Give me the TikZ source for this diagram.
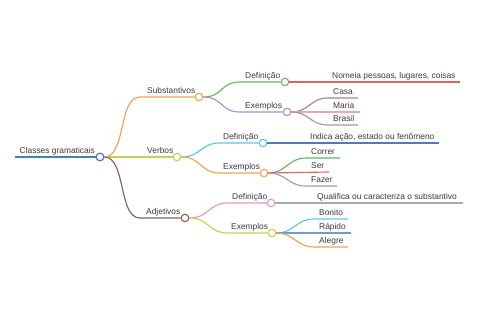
\documentclass[tikz,border=0pt]{standalone}
\usepackage{fontspec}
\setmainfont{Liberation Sans}
\definecolor{cRoot}{HTML}{4A7FB5}
\definecolor{cOrange}{HTML}{F2A154}
\definecolor{cLime}{HTML}{C5D04E}
\definecolor{cBrown}{HTML}{8B5E55}
\definecolor{cGreen}{HTML}{62B762}
\definecolor{cRed}{HTML}{E06464}
\definecolor{cPurple}{HTML}{A392CF}
\definecolor{cMauve}{HTML}{A6838E}
\definecolor{cPink}{HTML}{E8A4C4}
\definecolor{cGrayBrown}{HTML}{AA9696}
\definecolor{cCyan}{HTML}{5EC8DA}
\definecolor{cBlue}{HTML}{6A9FD0}
\definecolor{cMagenta}{HTML}{E694CC}
\definecolor{cGray}{HTML}{AAAAAA}
\definecolor{cTxt}{HTML}{3A3A3A}
\begin{document}
\begin{tikzpicture}[x=1pt,y=-1pt,
  lbl/.style={anchor=base west,inner sep=0pt,font=\fontsize{8.4}{10}\selectfont,text=cTxt},
  dot/.style={circle,draw=#1,fill=white,line width=1.1pt,minimum size=7.5pt,inner sep=0pt},
  conn/.style={draw=#1,line width=1.15pt}]
\useasboundingbox (0,0) rectangle (480,320);
% root
\coordinate (r0) at (15,157);
\draw[conn=cRoot,line width=1.8pt] (r0) -- (96,157);
\node[dot=cRoot] (R) at (100,157) {};
\node[lbl] (Rt) at (19.5,154) {Classes gramaticais};
% level 1
\coordinate (sS) at (140,97);  \node[dot=cOrange] (S) at (199,97) {};
\node[lbl] (St) at (147,94) {Substantivos};
\coordinate (vS) at (140,157); \node[dot=cLime] (V) at (177,157) {};
\node[lbl] (Vt) at (147,154) {Verbos};
\coordinate (aS) at (140,218); \node[dot=cBrown] (A) at (185,218) {};
\node[lbl] (At) at (146,215) {Adjetivos};
\draw[conn=cOrange] (R.east) .. controls +(22,0) and +(-22,0) .. (sS) -- (S.west);
\draw[conn=cLime] (R.east) -- (V.west);
\draw[conn=cBrown] (R.east) .. controls +(22,0) and +(-22,0) .. (aS) -- (A.west);
\node[dot=cRoot] at (R) {};
% Substantivos children
\coordinate (sdS) at (240,82); \node[dot=cGreen] (SD) at (285,82) {};
\node[lbl] (SDt) at (245,79) {Definição};
\coordinate (seS) at (240,112); \node[dot=cPurple] (SE) at (287,112) {};
\node[lbl] (SEt) at (245,109) {Exemplos};
\draw[conn=cGreen] (S.east) .. controls +(20,0) and +(-20,0) .. (sdS) -- (SD.west);
\draw[conn=cPurple] (S.east) .. controls +(20,0) and +(-20,0) .. (seS) -- (SE.west);
\coordinate (sdL) at (460,82);
\node[lbl] (SDLt) at (332,79) {Nomeia pessoas, lugares, coisas};
\draw[conn=cRed] (SD.east) -- (sdL);
\coordinate (c1s) at (328,98) ; \coordinate (c1e) at (358,98);
\coordinate (c2s) at (328,112); \coordinate (c2e) at (360,112);
\coordinate (c3s) at (328,125); \coordinate (c3e) at (358,125);
\node[lbl] (C1) at (333,95) {Casa};
\node[lbl] (C2) at (333,109) {Maria};
\node[lbl] (C3) at (333,122) {Brasil};
\draw[conn=cMauve] (SE.east) .. controls +(18,0) and +(-18,0) .. (c1s) -- (c1e);
\draw[conn=cPink] (SE.east) -- (c2e);
\draw[conn=cGrayBrown] (SE.east) .. controls +(18,0) and +(-18,0) .. (c3s) -- (c3e);
% Verbos children
\coordinate (vdS) at (220,143); \node[dot=cCyan] (VD) at (263,143) {};
\node[lbl] (VDt) at (223,140) {Definição};
\coordinate (veS) at (220,173); \node[dot=cOrange] (VE) at (264,173) {};
\node[lbl] (VEt) at (223,170) {Exemplos};
\draw[conn=cCyan] (V.east) .. controls +(20,0) and +(-20,0) .. (vdS) -- (VD.west);
\draw[conn=cOrange] (V.east) .. controls +(20,0) and +(-20,0) .. (veS) -- (VE.west);
\coordinate (vdL) at (439,143);
\node[lbl] (VDLt) at (310,140) {Indica ação, estado ou fenômeno};
\draw[conn=cRoot] (VD.east) -- (vdL);
\coordinate (d1s) at (306,158); \coordinate (d1e) at (340,158);
\coordinate (d2s) at (306,172); \coordinate (d2e) at (329,172);
\coordinate (d3s) at (306,186); \coordinate (d3e) at (337,186);
\node[lbl] (D1) at (311,155) {Correr};
\node[lbl] (D2) at (311,169) {Ser};
\node[lbl] (D3) at (311,183) {Fazer};
\draw[conn=cGreen] (VE.east) .. controls +(18,0) and +(-18,0) .. (d1s) -- (d1e);
\draw[conn=cRed] (VE.east) -- (d2e);
\draw[conn=cPurple] (VE.east) .. controls +(18,0) and +(-18,0) .. (d3s) -- (d3e);
% Adjetivos children
\coordinate (adS) at (228,203); \node[dot=cMagenta] (AD) at (271,203) {};
\node[lbl] (ADt) at (232,200) {Definição};
\coordinate (aeS) at (228,233); \node[dot=cLime] (AE) at (272,233) {};
\node[lbl] (AEt) at (231,230) {Exemplos};
\draw[conn=cMagenta] (A.east) .. controls +(20,0) and +(-20,0) .. (adS) -- (AD.west);
\draw[conn=cLime] (A.east) .. controls +(20,0) and +(-20,0) .. (aeS) -- (AE.west);
\coordinate (adL) at (463,203);
\node[lbl] (ADLt) at (317,200) {Qualifica ou caracteriza o substantivo};
\draw[conn=cGray] (AD.east) -- (adL);
\coordinate (e1s) at (314,219); \coordinate (e1e) at (348,219);
\coordinate (e2s) at (314,233); \coordinate (e2e) at (351,233);
\coordinate (e3s) at (314,247); \coordinate (e3e) at (348,247);
\node[lbl] (E1) at (319,216) {Bonito};
\node[lbl] (E2) at (319,230) {Rápido};
\node[lbl] (E3) at (319,244) {Alegre};
\draw[conn=cCyan] (AE.east) .. controls +(18,0) and +(-18,0) .. (e1s) -- (e1e);
\draw[conn=cBlue] (AE.east) -- (e2e);
\draw[conn=cOrange] (AE.east) .. controls +(18,0) and +(-18,0) .. (e3s) -- (e3e);
\end{tikzpicture}
\end{document}
